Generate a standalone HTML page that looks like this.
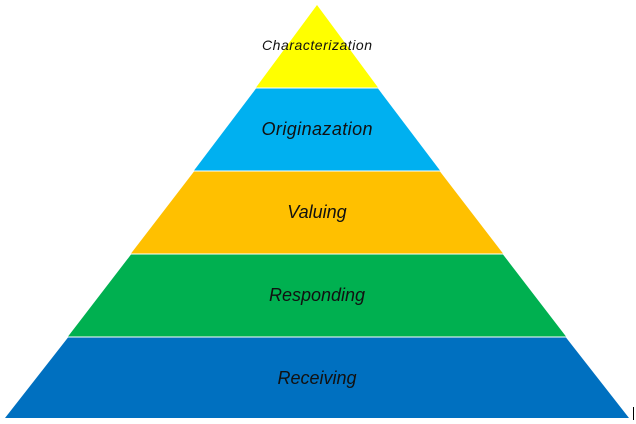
<!DOCTYPE html>
<html><head><meta charset="utf-8"><style>
html,body{margin:0;padding:0;background:#fff;width:636px;height:424px;overflow:hidden}
text{font-family:"Liberation Sans",sans-serif;font-style:italic;fill:#111}
</style></head><body>
<svg width="636" height="424" xmlns="http://www.w3.org/2000/svg">
<polygon points="317,5 378,87.5 256,87.5" fill="#ffff00"/>
<polygon points="256,88.5 378,88.5 440,170.5 194,170.5" fill="#00b0f0"/>
<polygon points="194,171.5 440,171.5 503,253.5 131,253.5" fill="#ffc000"/>
<polygon points="131,254.5 503,254.5 566,336.5 68,336.5" fill="#00b050"/>
<polygon points="68,337.5 566,337.5 629,418 5,418" fill="#0070c0"/>
<line x1="633.5" y1="407" x2="633.5" y2="420" stroke="#000" stroke-width="1"/>
<text x="317" y="50" font-size="14" text-anchor="middle" textLength="110">Characterization</text>
<text x="317" y="135" font-size="18" text-anchor="middle" textLength="111">Originazation</text>
<text x="317" y="218" font-size="18" text-anchor="middle">Valuing</text>
<text x="317" y="301" font-size="18" text-anchor="middle">Responding</text>
<text x="317" y="384" font-size="18" text-anchor="middle">Receiving</text>
</svg>
</body></html>
